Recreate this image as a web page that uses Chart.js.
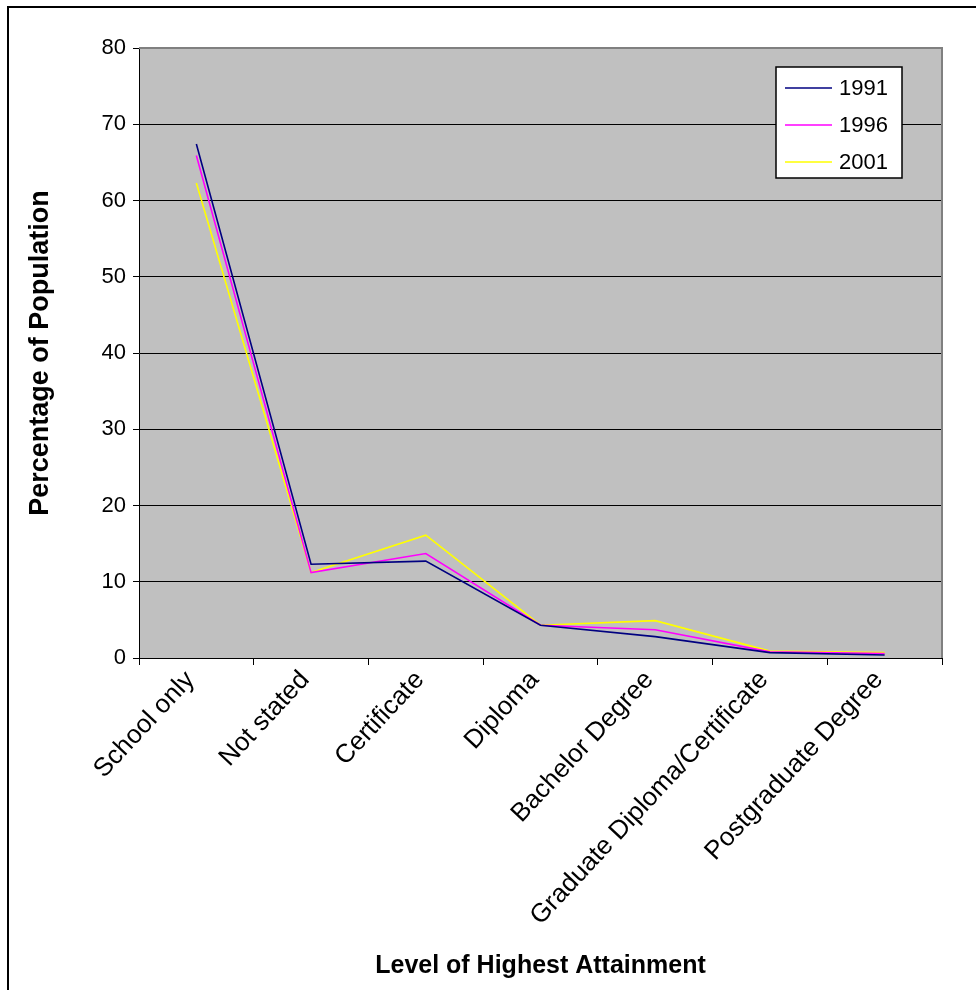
<!DOCTYPE html>
<html>
<head>
<meta charset="utf-8">
<script src="https://cdn.jsdelivr.net/npm/chart.js@4"></script>
<style>
  html, body { margin: 0; padding: 0; background: #fff; overflow: hidden; }
  #wrap { position: relative; width: 976px; height: 990px; }
</style>
</head>
<body>
<div id="wrap"><canvas id="c" width="976" height="990"></canvas></div>
<script>
// Share of population by level of highest attainment, three census years
const categories = [
  "School only", "Not stated", "Certificate", "Diploma",
  "Bachelor Degree", "Graduate Diploma/Certificate", "Postgraduate Degree"
];
const values1991 = [67.4, 12.3, 12.7, 4.3, 2.8, 0.7, 0.4];
const values1996 = [65.9, 11.2, 13.7, 4.3, 3.7, 0.8, 0.6];
const values2001 = [62.3, 11.2, 16.1, 4.3, 4.9, 0.9, 0.7];
const yearLabels = ["1991", "1996", "2001"];
const yTickLabels = ["0", "10", "20", "30", "40", "50", "60", "70", "80"];

const FONT = "'Liberation Sans', Arial, sans-serif";
const PLOT_LEFT = 139, PLOT_BOTTOM = 658, CANVAS_H = 990;
const PAD = { left: 24, top: 48, right: 34, bottom: 6 };

// Grey plot background, grey frame on top/right, boxed legend, outer frame
const chartDecor = {
  id: 'chartDecor',
  beforeDraw(chart) {
    const { ctx, chartArea: a } = chart;
    ctx.save();
    ctx.fillStyle = '#ffffff';
    ctx.fillRect(0, 0, chart.width, chart.height);
    ctx.fillStyle = '#c0c0c0';
    ctx.fillRect(a.left, a.top, a.right - a.left, a.bottom - a.top);
    ctx.restore();
  },
  afterDraw(chart) {
    const { ctx, chartArea: a } = chart;
    ctx.save();
    // plot frame (top and right)
    ctx.strokeStyle = '#808080';
    ctx.lineWidth = 2;
    ctx.beginPath();
    ctx.moveTo(a.left, a.top);
    ctx.lineTo(a.right, a.top);
    ctx.lineTo(a.right, a.bottom);
    ctx.stroke();

    // legend box
    const bx = 776, by = 67, bw = 126, bh = 111;
    ctx.fillStyle = '#ffffff';
    ctx.fillRect(bx, by, bw, bh);
    ctx.strokeStyle = '#000000';
    ctx.lineWidth = 1.5;
    ctx.strokeRect(bx, by, bw, bh);
    ctx.font = '22px ' + FONT;
    ctx.textBaseline = 'middle';
    ctx.textAlign = 'left';
    chart.data.datasets.forEach((ds, i) => {
      const y = 88 + i * 37;
      ctx.strokeStyle = ds.borderColor;
      ctx.lineWidth = 1.5;
      ctx.beginPath();
      ctx.moveTo(785, y);
      ctx.lineTo(832, y);
      ctx.stroke();
      ctx.fillStyle = '#000000';
      ctx.fillText(ds.label, 839, y + 1);
    });

    // outer chart frame
    ctx.strokeStyle = '#000000';
    ctx.lineWidth = 2;
    ctx.strokeRect(8, 7, 1000, 1000);
    ctx.restore();
  }
};

const lineStyle = { borderWidth: 1.6, pointRadius: 0, pointHoverRadius: 0, tension: 0, fill: false };

new Chart(document.getElementById('c'), {
  type: 'line',
  data: {
    labels: categories,
    datasets: [
      Object.assign({ label: yearLabels[0], data: values1991, borderColor: '#000080' }, lineStyle),
      Object.assign({ label: yearLabels[1], data: values1996, borderColor: '#ff00ff' }, lineStyle),
      Object.assign({ label: yearLabels[2], data: values2001, borderColor: '#ffff00' }, lineStyle)
    ]
  },
  options: {
    responsive: false,
    animation: false,
    devicePixelRatio: 1,
    layout: { padding: PAD },
    plugins: { legend: { display: false }, tooltip: { enabled: false } },
    scales: {
      x: {
        type: 'category',
        offset: true,
        grid: { drawOnChartArea: false, drawTicks: true, tickLength: 7, color: '#000', offset: true },
        border: { color: '#000', width: 1 },
        ticks: {
          autoSkip: false, minRotation: 47, maxRotation: 47,
          color: '#000', padding: 0, labelOffset: -6,
          font: { family: FONT, size: 26 }
        },
        title: {
          display: true, text: 'Level of Highest Attainment', color: '#000',
          font: { family: FONT, size: 25, weight: 'bold' },
          padding: { top: 0, bottom: 3 }
        },
        afterFit(scale) { scale.height = CANVAS_H - PLOT_BOTTOM - PAD.bottom; }
      },
      y: {
        min: 0, max: 80,
        grid: {
          color: ctx => (ctx.tick && ctx.tick.value === 80) ? '#808080' : '#000',
          tickColor: '#000', tickLength: 6, lineWidth: 1
        },
        border: { color: '#000', width: 1 },
        ticks: {
          stepSize: 10, color: '#000', padding: 7,
          font: { family: FONT, size: 22 },
          callback: (v, i) => yTickLabels[i]
        },
        title: {
          display: true, text: 'Percentage of Population', color: '#000',
          font: { family: FONT, size: 27, weight: 'bold' },
          padding: { top: 0, bottom: 0 }
        },
        afterFit(scale) { scale.width = PLOT_LEFT - PAD.left; }
      }
    }
  },
  plugins: [chartDecor]
});
</script>
</body>
</html>
